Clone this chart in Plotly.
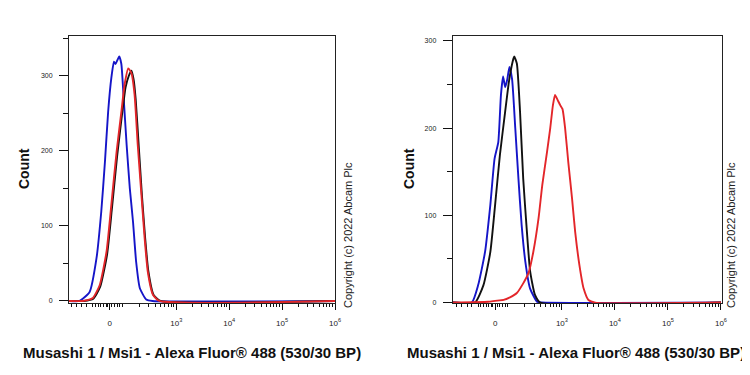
import plotly.graph_objects as go
import math

# ---- data (x in display channel units: 0 -> 1.74, 10^3 -> 3, 10^4 -> 4 ...) ----
tick_vals = [1.74, 3, 4, 5, 6]
tick_text = ["0", "10<sup>3</sup>", "10<sup>4</sup>", "10<sup>5</sup>", "10<sup>6</sup>"]

# Left panel
l_blue_x = [0.97, 1.17, 1.36, 1.49, 1.58, 1.65, 1.71, 1.77, 1.82, 1.85, 1.92, 1.96, 2.00, 2.06, 2.12, 2.18, 2.24, 2.31, 2.43, 2.55, 6.0]
l_blue_y = [0, 0, 12, 57, 119, 186, 252, 297, 319, 316, 326, 316, 275, 208, 150, 106, 52, 17, 2, 0, 0]
l_black_x = [0.97, 1.25, 1.43, 1.56, 1.69, 1.78, 1.88, 1.97, 2.04, 2.10, 2.15, 2.19, 2.23, 2.29, 2.35, 2.41, 2.47, 2.57, 2.70, 6.0]
l_black_y = [0, 0, 3, 19, 62, 122, 193, 247, 285, 300, 307, 296, 270, 205, 140, 84, 40, 8, 0, 0]
l_red_x = [0.97, 1.23, 1.42, 1.55, 1.68, 1.77, 1.87, 1.96, 2.02, 2.09, 2.15, 2.21, 2.27, 2.34, 2.40, 2.46, 2.56, 2.68, 6.0]
l_red_y = [0, 0, 4, 21, 66, 128, 199, 252, 288, 310, 304, 275, 208, 141, 84, 39, 8, 0, 0]

# Right panel
r_blue_x = [0.94, 1.30, 1.42, 1.55, 1.65, 1.73, 1.80, 1.85, 1.89, 1.93, 1.97, 2.01, 2.06, 2.12, 2.18, 2.24, 2.31, 2.40, 2.53, 2.61, 6.0]
r_blue_y = [0, 0, 20, 58, 112, 165, 184, 238, 259, 247, 256, 270, 256, 200, 142, 89, 47, 16, 1, 0, 0]
r_black_x = [0.94, 1.36, 1.52, 1.65, 1.74, 1.83, 1.93, 2.00, 2.07, 2.10, 2.15, 2.21, 2.27, 2.34, 2.40, 2.49, 2.59, 6.0]
r_black_y = [0, 0, 20, 58, 112, 169, 219, 253, 276, 282, 274, 219, 142, 81, 36, 9, 0, 0]
r_red_x = [0.94, 1.61, 1.74, 1.90, 2.02, 2.15, 2.27, 2.37, 2.46, 2.56, 2.63, 2.72, 2.78, 2.83, 2.87, 2.92, 2.97, 3.01, 3.06, 3.12, 3.19, 3.25, 3.33, 3.41, 3.50, 3.63, 6.0]
r_red_y = [0, 1, 2, 3, 6, 11, 22, 34, 58, 97, 135, 173, 200, 226, 238, 232, 226, 222, 200, 161, 120, 81, 43, 16, 3, 0, 0]

x_title = "Musashi 1 / Msi1 - Alexa Fluor® 488 (530/30 BP)"
y_title = "Count"
copyright_text = "Copyright (c) 2022 Abcam Plc"

BLUE = "#1515c8"
BLACK = "#111111"
RED = "#e3262a"

minor_x = [1.02, 1.11, 1.21, 1.30, 1.42, 1.47, 1.52, 1.57, 1.62, 1.67, 1.70, 1.78, 1.83, 1.88, 1.93, 1.98]
for d in [2, 3, 4, 5]:
    for k in range(2, 10):
        minor_x.append(d + math.log10(k))

# page body has an 8px margin; size the figure so it fits the 750x375 window
OFF = 8
W, H = 750 - OFF, 375 - OFF
def fx(px):
    return (px - OFF) / W
def fy(py):
    return 1 - (py - OFF) / H

fig = go.Figure()

def add(x, y, color, xa, ya):
    fig.add_trace(go.Scatter(x=x, y=y, mode="lines", line=dict(color=color, width=1.9, shape="spline", smoothing=0.5),
                             xaxis=xa, yaxis=ya, showlegend=False, hoverinfo="skip"))

add(l_blue_x, l_blue_y, BLUE, "x", "y")
add(l_black_x, l_black_y, BLACK, "x", "y")
add(l_red_x, l_red_y, RED, "x", "y")
add(r_blue_x, r_blue_y, BLUE, "x2", "y2")
add(r_black_x, r_black_y, BLACK, "x2", "y2")
add(r_red_x, r_red_y, RED, "x2", "y2")

FONT = "Liberation Sans, Arial, sans-serif"
ytickfont = dict(family=FONT, size=7, color="#222")
xtickfont = dict(family=FONT, size=8, color="#222")

xcommon = dict(tickmode="array", tickvals=tick_vals, ticktext=tick_text, ticks="outside", ticklen=6,
               tickwidth=1.3, tickcolor="#111", showline=True, linecolor="#222", linewidth=1, mirror=True,
               showgrid=False, zeroline=False, tickfont=xtickfont, ticklabelstandoff=6, automargin=False,
               minor=dict(tickmode="array", tickvals=minor_x, ticks="outside", ticklen=3, tickcolor="#111", tickwidth=1, showgrid=False))
ycommon = dict(tickmode="array", tickvals=[0, 100, 200, 300], ticks="outside", ticklen=9, tickwidth=1.3,
               tickcolor="#111", showline=True, linecolor="#222", linewidth=1, mirror=True, showgrid=False,
               zeroline=False, tickfont=ytickfont, ticklabelstandoff=5, automargin=False,
               minor=dict(tickmode="array", tickvals=[50, 150, 250, 350], ticks="outside", ticklen=5, tickcolor="#111", tickwidth=1, showgrid=False))

fig.update_layout(
    width=W, height=H, margin=dict(l=0, r=0, t=0, b=0, autoexpand=False),
    paper_bgcolor="white", plot_bgcolor="white",
    xaxis=dict(domain=[fx(69), fx(335)], range=[0.97, 6.0], anchor="y", **xcommon),
    yaxis=dict(domain=[fy(303), fy(36)], range=[-2.7, 353.3], anchor="x", **ycommon),
    xaxis2=dict(domain=[fx(452.7), fx(721.5)], range=[0.94, 6.01], anchor="y2", **xcommon),
    yaxis2=dict(domain=[fy(303), fy(36)], range=[-0.5, 305.5], anchor="x2", **ycommon),
)

ann_font = dict(family=FONT, color="#111")
for cx in [192, 576]:
    fig.add_annotation(x=fx(cx), y=fy(352), xref="paper", yref="paper", text="<b>" + x_title + "</b>",
                       showarrow=False, font=dict(size=15, **ann_font), xanchor="center", yanchor="middle")
for cx in [24, 409]:
    fig.add_annotation(x=fx(cx), y=fy(169), xref="paper", yref="paper", text="<b>" + y_title + "</b>",
                       showarrow=False, textangle=-90, font=dict(size=14, **ann_font), xanchor="center", yanchor="middle")
for cx in [348, 731]:
    fig.add_annotation(x=fx(cx), y=fy(235), xref="paper", yref="paper", text=copyright_text,
                       showarrow=False, textangle=-90, font=dict(size=11, family=FONT, color="#222"),
                       xanchor="center", yanchor="middle")

fig.write_html("out.html")
